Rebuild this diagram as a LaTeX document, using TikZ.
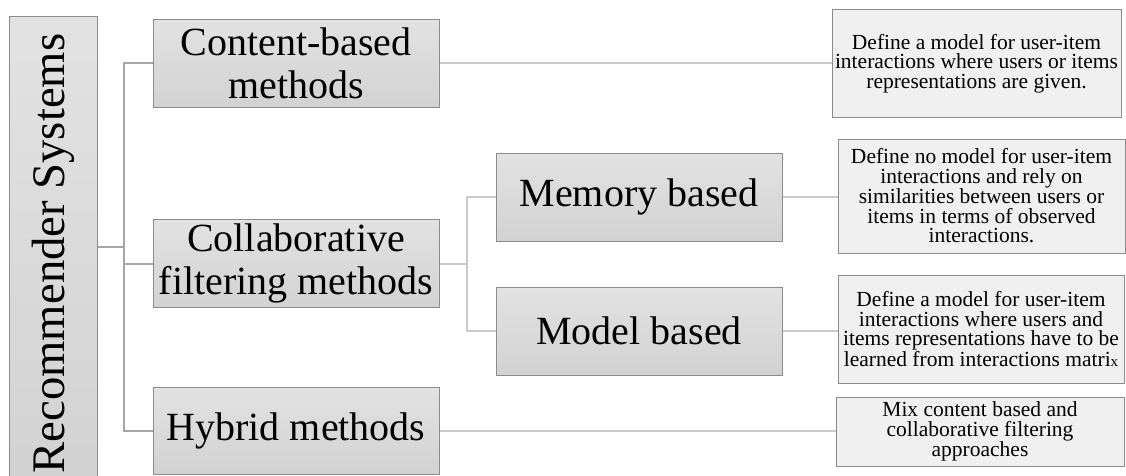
\documentclass[tikz,border=0pt]{standalone}
\usepackage{fontspec}
\setmainfont{Liberation Serif}
\newfontfamily\tnr{Liberation Serif}
\begin{document}
\begin{tikzpicture}[x=1pt,y=-1pt,
  box/.style={draw=boxborder, line width=1pt, inner sep=0pt, align=center,
    top color=boxtop, bottom color=boxbot},
  lvl/.style={box, minimum width=286pt, minimum height=88pt,
    font=\tnr\fontsize{40}{43}\selectfont},
  desc/.style={draw=boxborder, line width=1pt, inner sep=0pt, align=center,
    fill=descfill, font=\tnr\fontsize{21.5}{19.5}\selectfont},
  conA/.style={draw=linedark, line width=2pt},
  conB/.style={draw=linelight, line width=2pt}]
\definecolor{boxborder}{HTML}{8C8C8C}
\definecolor{boxtop}{HTML}{E2E2E2}
\definecolor{boxbot}{HTML}{D2D2D2}
\definecolor{descfill}{HTML}{F0F0F0}
\definecolor{linedark}{HTML}{A6A6A6}
\definecolor{linelight}{HTML}{CACACA}
\useasboundingbox[fill=white] (0,0) rectangle (1126,476);
% root
\node[box, rotate=90, minimum width=473pt, minimum height=88pt,
  font=\tnr\fontsize{46.7}{50}\selectfont] (root) at (53,253.5) {Recommender Systems};
% level 1
\node[lvl] (content) at (296,63.5) {Content-based\\methods};
\node[lvl] (collab) at (296,263.5) {Collaborative\\filtering methods};
\node[lvl, minimum height=87pt] (hybrid) at (296,430.5) {Hybrid methods};
% level 2
\node[lvl] (memory) at (639,197) {Memory based};
\node[lvl] (model) at (639,331) {Model based};
% descriptions
\node[desc, minimum width=289pt, minimum height=108pt] (cdesc) at (976.5,63.5)
  {Define a model for user-item\\interactions where users or items\\representations are given.};
\node[desc, minimum width=287pt, minimum height=114pt] (mdesc) at (981.5,196)
  {Define no model for user-item\\interactions and rely on\\similarities between users or\\items in terms of observed\\interactions.};
\node[desc, minimum width=286pt, minimum height=108pt] (mddesc) at (981,329)
  {Define a model for user-item\\interactions where users and\\items representations have to be\\learned from interactions matri{\fontsize{15}{15}\selectfont x}};
\node[desc, minimum width=288pt, minimum height=69pt] (hdesc) at (980,431.5)
  {Mix content based and\\collaborative filtering\\approaches};
% connectors
\coordinate (j1) at (124,247);
\coordinate (j2) at (467,263.5);
\draw[conA] (j1 -| root.south) -- (j1);
\draw[conA] (content.west) -- (content.west -| j1) -- (hybrid.west -| j1) -- (hybrid.west);
\draw[conA] (collab.west) -- (collab.west -| j1);
\draw[conB] (collab.east) -- (j2);
\draw[conB] (memory.west) -- (memory.west -| j2) -- (model.west -| j2) -- (model.west);
\draw[conB] (content.east) -- (content.east -| cdesc.west);
\draw[conB] (memory.east) -- (memory.east -| mdesc.west);
\draw[conB] (model.east) -- (model.east -| mddesc.west);
\draw[conB] (hybrid.east) -- (hybrid.east -| hdesc.west);
\end{tikzpicture}
\end{document}
